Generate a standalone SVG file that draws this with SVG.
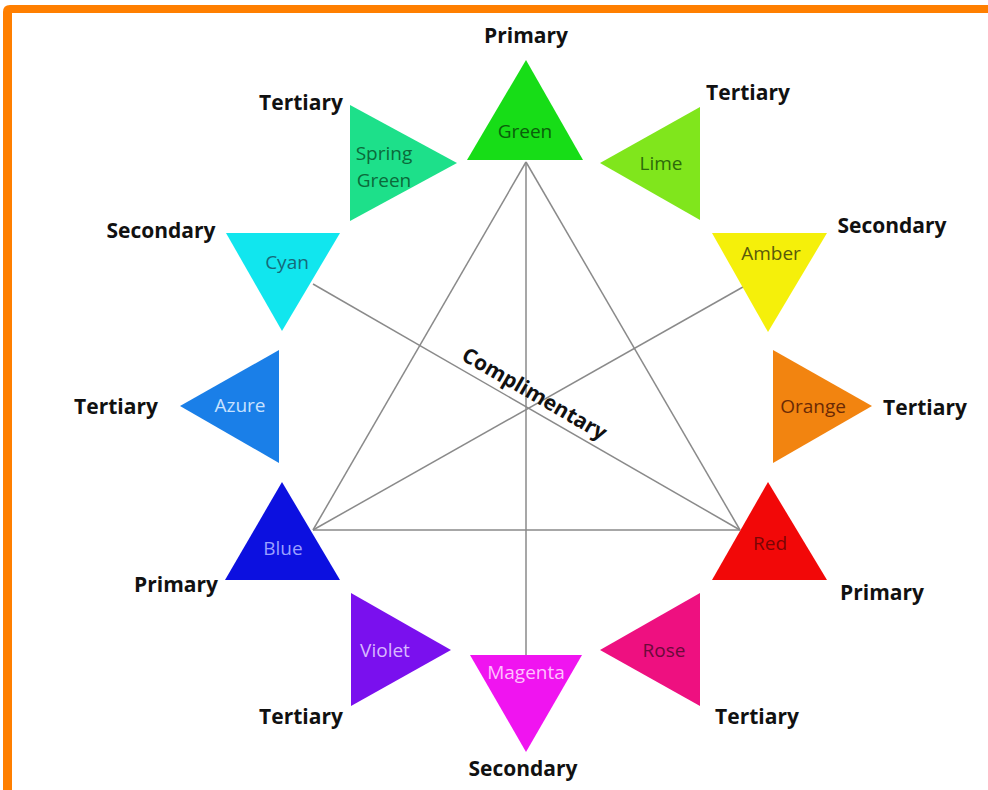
<svg xmlns="http://www.w3.org/2000/svg" width="988" height="790" viewBox="0 0 988 790">
<style>
.cat{font-family:"Open Sans","Liberation Sans",sans-serif;font-weight:bold;font-size:21px;fill:#111;text-anchor:middle}
.lbl{font-family:"Open Sans","Liberation Sans",sans-serif;font-size:19px;text-anchor:middle}
.con{stroke:#8a8a8a;stroke-width:1.5;fill:none}
</style>
<rect x="0" y="0" width="988" height="790" fill="#ffffff"/>
<path d="M3,790 V12 Q3,5 10,5 H988 V13 H12 V790 Z" fill="#ff7f00"/>
<g id="connectors">
<line class="con" x1="526" y1="162" x2="313" y2="530"/>
<line class="con" x1="526" y1="162" x2="740" y2="530"/>
<line class="con" x1="526" y1="162" x2="526" y2="655"/>
<line class="con" x1="313" y1="530" x2="740" y2="530"/>
<line class="con" x1="313" y1="284" x2="740" y2="530"/>
<line class="con" x1="750" y1="283" x2="313" y2="530"/>
</g>
<text class="cat" font-size="19" transform="translate(531,400) rotate(30)">Complimentary</text>
<g id="green"><polygon points="526,60 583,160 467,160" fill="#17dd17"/><text class="lbl" x="525" y="138" fill="#0a5f0a">Green</text></g>
<g id="spring-green"><polygon points="350,105 457,163 350,221" fill="#1de08a"/><text class="lbl" x="384" y="160" fill="#0b6a3a">Spring</text><text class="lbl" x="384" y="187" fill="#0b6a3a">Green</text></g>
<g id="lime"><polygon points="700,107 600,163 700,220" fill="#80e61c"/><text class="lbl" x="661" y="170" fill="#2d6a0a">Lime</text></g>
<g id="cyan"><polygon points="226,233 340,233 282,331" fill="#11e6ee"/><text class="lbl" x="287" y="269" fill="#156a7a">Cyan</text></g>
<g id="amber"><polygon points="712,233 827,233 768,332" fill="#f5f00a"/><text class="lbl" x="771" y="260" fill="#5a5a0a">Amber</text></g>
<g id="azure"><polygon points="279,350 180,406 279,463" fill="#1a7fe8"/><text class="lbl" x="240" y="412" fill="#c8e2ff">Azure</text></g>
<g id="orange"><polygon points="773,350 872,406 773,463" fill="#f28410"/><text class="lbl" x="813" y="413" fill="#6a2a05">Orange</text></g>
<g id="blue"><polygon points="282,482 340,580 225,580" fill="#0c10e0"/><text class="lbl" x="283" y="555" fill="#9aa0ff">Blue</text></g>
<g id="red"><polygon points="768,482 827,580 712,580" fill="#f20808"/><text class="lbl" x="770" y="550" fill="#7a0505">Red</text></g>
<g id="violet"><polygon points="351,593 451,650 351,706" fill="#7a10ee"/><text class="lbl" x="385" y="657" fill="#d8b8ff">Violet</text></g>
<g id="rose"><polygon points="700,593 600,650 700,706" fill="#ee1080"/><text class="lbl" x="664" y="657" fill="#6a0a3a">Rose</text></g>
<g id="magenta"><polygon points="470,655 582,655 526,752" fill="#f014f0"/><text class="lbl" x="526" y="679" fill="#ffc0ff">Magenta</text></g>
<g id="category-labels">
<text class="cat" x="526" y="43">Primary</text>
<text class="cat" x="301" y="110">Tertiary</text>
<text class="cat" x="748" y="100">Tertiary</text>
<text class="cat" x="161" y="238">Secondary</text>
<text class="cat" x="892" y="233">Secondary</text>
<text class="cat" x="116" y="414">Tertiary</text>
<text class="cat" x="925" y="415">Tertiary</text>
<text class="cat" x="176" y="592">Primary</text>
<text class="cat" x="882" y="600">Primary</text>
<text class="cat" x="301" y="724">Tertiary</text>
<text class="cat" x="757" y="724">Tertiary</text>
<text class="cat" x="523" y="776">Secondary</text>
</g>
</svg>
